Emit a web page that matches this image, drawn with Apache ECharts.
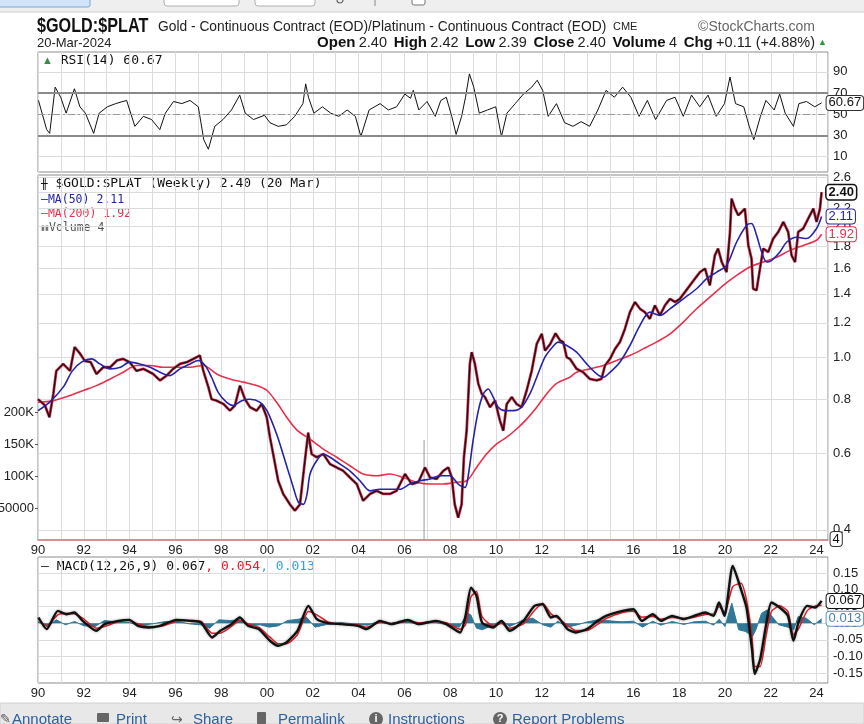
<!DOCTYPE html>
<html><head><meta charset="utf-8">
<script src="https://cdn.jsdelivr.net/npm/echarts@6/dist/echarts.min.js"></script>
<style>html,body{margin:0;padding:0;background:#fff}#c{width:864px;height:724px}</style>
</head><body><div id="c"></div>
<script>
// ---------- data ----------
const priceYears = [1990.0,1990.3,1990.5,1990.67,1990.8,1991.1,1991.4,1991.6,1991.83,1992.05,1992.3,1992.55,1992.85,1993.15,1993.45,1993.72,1994.0,1994.3,1994.6,1995.03,1995.33,1995.62,1995.9,1996.2,1996.5,1996.78,1997.07,1997.22,1997.44,1997.58,1997.8,1998.1,1998.38,1998.6,1998.82,1999.04,1999.26,1999.55,1999.77,1999.99,2000.13,2000.27,2000.49,2000.71,2001.0,2001.22,2001.44,2001.66,2001.8,2001.95,2002.17,2002.46,2002.75,2003.04,2003.33,2003.62,2003.92,2004.2,2004.5,2004.79,2005.08,2005.37,2005.66,2006.03,2006.32,2006.61,2006.9,2007.12,2007.41,2007.7,2007.92,2008.07,2008.2,2008.35,2008.5,2008.6,2008.72,2008.86,2008.94,2009.08,2009.23,2009.38,2009.52,2009.74,2009.96,2010.17,2010.32,2010.47,2010.69,2010.9,2011.12,2011.34,2011.56,2011.78,2012.0,2012.14,2012.36,2012.6,2012.8,2012.94,2013.09,2013.23,2013.52,2013.81,2014.1,2014.4,2014.61,2014.76,2014.98,2015.2,2015.41,2015.63,2015.85,2016.07,2016.29,2016.5,2016.72,2016.94,2017.16,2017.38,2017.6,2017.82,2018.03,2018.25,2018.47,2018.69,2018.91,2019.13,2019.34,2019.56,2019.7,2019.86,2020.07,2020.22,2020.29,2020.44,2020.58,2020.73,2020.87,2021.02,2021.16,2021.23,2021.38,2021.53,2021.67,2021.89,2022.11,2022.33,2022.55,2022.76,2022.91,2023.06,2023.2,2023.42,2023.64,2023.86,2024.0,2024.15,2024.22];
const priceValues = [0.80,0.775,0.727,0.823,0.93,0.965,0.93,1.055,1.02,0.98,0.974,0.915,0.948,0.948,0.983,0.991,0.974,0.93,0.94,0.915,0.884,0.907,0.94,0.965,0.974,0.991,1.009,0.93,0.853,0.80,0.794,0.78,0.753,0.774,0.86,0.80,0.767,0.753,0.78,0.727,0.654,0.598,0.519,0.484,0.458,0.443,0.458,0.58,0.67,0.598,0.588,0.598,0.567,0.557,0.547,0.528,0.51,0.467,0.484,0.492,0.484,0.484,0.492,0.538,0.51,0.515,0.557,0.528,0.524,0.547,0.557,0.528,0.458,0.427,0.458,0.588,0.677,0.965,1.027,0.965,0.868,0.823,0.809,0.767,0.794,0.715,0.677,0.78,0.809,0.78,0.767,0.838,0.93,1.073,1.132,1.036,1.07,1.135,1.093,1.083,1.0,0.991,0.94,0.923,0.891,0.884,0.891,0.957,0.991,1.045,1.083,1.162,1.27,1.34,1.293,1.27,1.226,1.316,1.248,1.316,1.363,1.34,1.363,1.413,1.464,1.517,1.571,1.6,1.464,1.717,1.78,1.657,1.571,1.944,2.32,2.2,2.124,2.162,2.2,1.81,1.687,1.438,1.426,1.6,1.78,1.748,1.877,1.944,2.05,1.944,1.717,1.657,1.944,1.98,2.088,2.2,2.05,2.2,2.40];

const ma50Years = [1990.0,1990.5,1991.1,1991.5,1991.9,1992.35,1992.7,1993.15,1993.6,1994.0,1994.45,1994.9,1995.33,1995.76,1996.2,1996.64,1997.0,1997.3,1997.58,1997.87,1998.24,1998.53,1998.9,1999.26,1999.7,2000.0,2000.42,2000.79,2001.15,2001.37,2001.59,2001.75,2001.88,2002.17,2002.46,2002.75,2003.19,2003.62,2004.06,2004.5,2004.93,2005.37,2005.8,2006.24,2006.68,2007.12,2007.55,2007.99,2008.35,2008.65,2008.8,2009.0,2009.23,2009.45,2009.66,2009.88,2010.1,2010.39,2010.76,2011.12,2011.48,2011.78,2012.14,2012.5,2012.72,2013.09,2013.52,2013.96,2014.4,2014.69,2014.98,2015.41,2015.85,2016.29,2016.72,2017.16,2017.6,2018.18,2018.76,2019.2,2019.64,2020.07,2020.51,2020.95,2021.16,2021.38,2021.6,2021.82,2022.04,2022.4,2022.7,2023.13,2023.57,2024.0,2024.22];
const ma50Values = [0.753,0.787,0.853,0.93,0.974,0.991,0.965,0.94,0.948,0.974,0.965,0.948,0.923,0.907,0.94,0.965,0.983,0.957,0.899,0.83,0.787,0.774,0.794,0.80,0.787,0.753,0.665,0.577,0.501,0.463,0.458,0.484,0.538,0.577,0.598,0.588,0.567,0.547,0.519,0.492,0.496,0.496,0.496,0.51,0.519,0.524,0.533,0.533,0.51,0.501,0.538,0.642,0.753,0.823,0.845,0.809,0.767,0.753,0.753,0.767,0.823,0.899,1.0,1.06,1.083,1.064,1.027,0.965,0.915,0.899,0.923,0.974,1.064,1.184,1.27,1.248,1.293,1.363,1.438,1.517,1.571,1.628,1.843,2.015,2.033,1.91,1.748,1.657,1.672,1.748,1.843,1.89,1.877,1.98,2.11];

const ma200Years = [1990.0,1990.67,1991.4,1991.98,1992.56,1993.15,1993.72,1994.3,1994.9,1995.47,1996.06,1996.64,1997.22,1997.8,1998.38,1998.96,1999.55,2000.0,2000.42,2000.86,2001.3,2001.88,2002.46,2003.04,2003.62,2004.2,2004.79,2005.37,2005.95,2006.53,2007.12,2007.7,2008.28,2008.72,2009.15,2009.59,2010.03,2010.47,2010.9,2011.34,2011.78,2012.21,2012.65,2013.23,2013.52,2014.1,2014.69,2015.27,2015.85,2016.43,2017.0,2017.6,2018.18,2018.76,2019.34,2019.93,2020.51,2021.09,2021.67,2022.26,2022.84,2023.42,2024.0,2024.22];
const ma200Values = [0.787,0.794,0.816,0.838,0.86,0.891,0.923,0.957,0.957,0.948,0.948,0.948,0.957,0.915,0.891,0.876,0.86,0.838,0.787,0.727,0.68,0.647,0.614,0.588,0.562,0.538,0.533,0.538,0.528,0.515,0.51,0.51,0.515,0.519,0.557,0.598,0.631,0.654,0.683,0.72,0.767,0.823,0.87,0.899,0.923,0.94,0.957,0.983,1.009,1.045,1.083,1.132,1.205,1.293,1.375,1.464,1.544,1.614,1.657,1.7,1.763,1.81,1.86,1.92];

const volYears = [2006.86, 2024.22];
const volValues = [156000, 4];

const rsiYears = [1990.02,1990.38,1990.51,1990.75,1990.99,1991.23,1991.59,1991.83,1992.07,1992.43,1992.67,1993.03,1993.39,1993.87,1994.23,1994.6,1994.96,1995.32,1995.56,1995.92,1996.28,1996.64,1997.0,1997.24,1997.44,1997.72,1998.08,1998.45,1998.81,1999.05,1999.41,1999.89,2000.13,2000.49,2000.85,2001.21,2001.57,2001.69,2001.81,2002.05,2002.42,2002.78,2003.14,2003.5,2003.86,2004.1,2004.46,2004.94,2005.3,2005.66,2006.02,2006.27,2006.39,2006.63,2006.99,2007.35,2007.59,2007.83,2008.07,2008.26,2008.5,2008.67,2008.84,2009.03,2009.27,2009.63,2009.99,2010.24,2010.48,2010.84,2011.2,2011.56,2011.8,2012.04,2012.28,2012.64,2013.0,2013.36,2013.72,2014.09,2014.45,2014.81,2015.17,2015.53,2015.89,2016.25,2016.61,2016.97,2017.45,2017.82,2018.18,2018.54,2018.9,2019.26,2019.62,2019.98,2020.22,2020.46,2020.82,2021.06,2021.26,2021.55,2021.79,2022.15,2022.39,2022.63,2022.99,2023.23,2023.56,2023.92,2024.22];
const rsiValues = [63,35.5,32,75.5,66,51,74,57,51,32,51,57,60,63,38.6,48,45,35.5,51,62,60,63,57,26,17,38.6,45,54,68,51,45,49,42,38.6,40,48,60,78.6,66,51,57,51,48,54,48,29,54,60,54,57,69,65,72.5,54,62,48,63,66,48,31,48,66,88,75.5,51,54,57,29,51,60,69,75.5,82,72.5,48,60,42,38.6,43,38.6,54,72.5,66,75.5,66,48,63,45,63,66,48,68,57,68,48,60,85,60,57,38.6,26,48,63,54,69,51,38.6,60,62,57,60.67];

const macdYears = [1990.02,1990.38,1990.87,1991.23,1991.59,1991.95,1992.55,1992.91,1993.51,1993.99,1994.36,1994.84,1995.32,1996.04,1996.64,1997.12,1997.6,1997.96,1998.45,1998.81,1999.17,1999.65,2000.13,2000.49,2000.85,2001.33,2001.81,2002.18,2002.66,2003.26,2003.98,2004.34,2004.94,2005.42,2006.15,2006.63,2007.35,2007.83,2008.43,2008.67,2008.91,2009.15,2009.39,2009.88,2010.24,2010.6,2011.2,2011.68,2012.04,2012.4,2012.64,2013.12,2013.48,2013.97,2014.45,2014.81,2015.53,2016.01,2016.37,2016.85,2017.21,2017.69,2018.18,2018.66,2019.14,2019.5,2019.74,2019.98,2020.34,2020.7,2020.94,2021.18,2021.3,2021.54,2021.79,2022.03,2022.39,2022.75,2022.99,2023.23,2023.59,2023.95,2024.22];
const macdValues = [0.017,-0.018,0.037,0.027,0.032,0.007,-0.023,-0.003,0.007,0.01,-0.008,-0.013,-0.008,0.01,0.007,0.002,-0.043,-0.023,-0.003,0.017,-0.008,-0.018,-0.053,-0.068,-0.058,-0.023,0.052,0.012,0.0,-0.003,-0.008,-0.018,0.007,-0.003,0.01,-0.003,0.007,-0.003,-0.028,0.022,0.107,0.082,0.002,-0.013,0.007,-0.023,0.007,0.052,0.057,0.017,0.022,-0.018,-0.028,-0.018,0.007,0.022,0.037,0.042,0.007,0.027,0.007,0.022,0.012,0.022,0.032,0.022,0.062,0.022,0.172,0.102,0.047,-0.078,-0.153,-0.108,-0.008,0.062,0.047,0.022,-0.053,0.007,0.052,0.047,0.067];
const signalValues = [0.012,-0.008,0.025,0.03,0.028,0.015,-0.015,-0.01,0.004,0.008,-0.002,-0.01,-0.01,0.005,0.008,0.005,-0.03,-0.03,-0.01,0.008,-0.002,-0.013,-0.042,-0.062,-0.062,-0.035,0.035,0.025,0.004,-0.003,-0.005,-0.012,0.002,-0.001,0.006,0.001,0.005,0.001,-0.018,-0.005,0.08,0.095,0.02,-0.008,-0.001,-0.015,-0.002,0.038,0.06,0.028,0.018,-0.006,-0.022,-0.022,-0.003,0.014,0.032,0.036,0.018,0.02,0.012,0.017,0.015,0.018,0.026,0.028,0.05,0.032,0.11,0.12,0.07,-0.04,-0.13,-0.13,-0.04,0.035,0.052,0.035,-0.035,-0.015,0.037,0.052,0.054];

const histYears = [1990.0,1990.4,1990.8,1991.2,1991.6,1992.0,1992.5,1992.9,1993.5,1994.0,1994.4,1995.0,1995.5,1996.0,1996.6,1997.1,1997.5,1997.9,1998.4,1998.8,1999.2,1999.7,2000.1,2000.5,2000.9,2001.4,2001.7,2002.1,2002.6,2003.2,2004.0,2004.4,2004.9,2005.4,2006.1,2006.6,2007.3,2007.8,2008.4,2008.75,2008.9,2009.15,2009.4,2009.9,2010.25,2010.6,2011.2,2011.6,2012.05,2012.4,2012.7,2013.1,2013.5,2014.0,2014.45,2014.8,2015.5,2016.0,2016.4,2016.85,2017.2,2017.7,2018.2,2018.65,2019.15,2019.5,2019.75,2020.0,2020.3,2020.6,2020.9,2021.2,2021.35,2021.6,2021.85,2022.0,2022.35,2022.75,2023.0,2023.2,2023.55,2023.9,2024.22];
const histValues = [0.005,-0.01,0.01,-0.005,0.005,-0.008,-0.01,0.008,0.003,0.002,-0.008,-0.002,0.004,0.006,-0.002,-0.005,-0.015,0.01,0.008,0.01,-0.008,-0.005,-0.012,-0.008,0.008,0.012,0.02,-0.012,-0.004,0.002,-0.004,-0.006,0.006,-0.003,0.005,-0.004,0.003,-0.004,-0.012,0.03,0.025,-0.015,-0.02,-0.005,0.008,-0.01,0.01,0.015,-0.005,-0.012,0.006,-0.012,-0.006,0.004,0.01,0.008,0.004,0.006,-0.012,0.006,-0.006,0.005,-0.004,0.004,0.006,-0.006,0.012,-0.01,0.06,-0.02,-0.025,-0.04,-0.02,0.03,0.04,0.025,-0.005,-0.012,-0.02,0.02,0.015,-0.005,0.013];

const priceTicks = [0.4,0.6,0.8,1.0,1.2,1.4,1.6,1.8,2.0,2.2,2.4,2.6];
const rsiTicks = [10,30,50,70,90];
const macdTicks = [-0.15,-0.10,-0.05,0,0.05,0.10,0.15];
const volTicks = [50000,100000,150000,200000];

// ---------- chart ----------
const zip = (xs, ys, f) => xs.map((x, i) => [x, f ? f(ys[i]) : ys[i]]);
const lg = v => Math.log10(v);
const AX = 'Liberation Sans, Arial, sans-serif';
const MO = '"DejaVu Sans Mono", monospace';

function xa(gi, showLabel, redLine) {
  return {
    type: 'value', gridIndex: gi, min: 1990, max: 2024.5, interval: 1,
    axisLine: redLine ? {show: true, onZero: false, lineStyle: {color: '#d98080', width: 1.5}} : {show: false},
    axisTick: {show: false},
    axisLabel: {show: showLabel, color: '#222', fontSize: 13, fontFamily: AX, margin: 4,
      formatter: v => (Math.round(v) % 2 === 0 ? String(Math.round(v) % 100).padStart(2, '0') : '')},
    splitLine: {show: true, lineStyle: {color: '#dcdcdc', width: 1}}
  };
}
const grid = (top, h) => ({left: 38, right: 36, top: top, height: h, containLabel: false, outerBoundsMode: 'none',
  show: true, borderColor: '#8c8c8c', borderWidth: 1, backgroundColor: '#fff'});
const tag = (color, bold) => ({
  show: true, distance: 5, backgroundColor: '#fff', borderColor: color, borderWidth: 1, borderRadius: 3,
  padding: [1, 2, 0, 2], fontSize: 13, fontFamily: AX, color: color, fontWeight: bold ? 'bold' : 'normal'
});

const chart = echarts.init(document.getElementById('c'), null, {renderer: 'canvas'});
const option = {
  animation: false,
  backgroundColor: '#fff',
  grid: [grid(52, 120), grid(175, 365), grid(557, 126)],
  xAxis: [xa(0, false, false), xa(1, true, true), xa(2, true, false)],
  yAxis: [
    {type: 'value', gridIndex: 0, position: 'right', min: -4.4, max: 108.6,
      axisLine: {show: false}, axisTick: {show: false, customValues: rsiTicks},
      axisLabel: {customValues: rsiTicks, color: '#222', fontSize: 13, fontFamily: AX, margin: 5},
      splitLine: {show: true, lineStyle: {color: '#dcdcdc'}}},
    {type: 'value', gridIndex: 1, position: 'right', min: lg(0.379), max: lg(2.63),
      axisLine: {show: false}, axisTick: {show: false, customValues: priceTicks.map(lg)},
      axisLabel: {customValues: priceTicks.map(lg), color: '#222', fontSize: 13, fontFamily: AX, margin: 5,
        formatter: v => Math.pow(10, v).toFixed(1)},
      splitLine: {show: true, lineStyle: {color: '#dcdcdc'}}},
    {type: 'value', gridIndex: 1, position: 'left', min: 0, max: 570000,
      axisLine: {show: false}, axisTick: {show: true, length: 3, inside: false, customValues: volTicks, lineStyle: {color: '#555'}},
      axisLabel: {customValues: volTicks, color: '#222', fontSize: 13, fontFamily: AX, margin: 4,
        formatter: v => v >= 100000 ? (v / 1000) + 'K' : String(v)},
      splitLine: {show: false}},
    {type: 'value', gridIndex: 2, position: 'right', min: -0.18, max: 0.199,
      axisLine: {show: false}, axisTick: {show: false, customValues: macdTicks},
      axisLabel: {customValues: macdTicks, color: '#222', fontSize: 13, fontFamily: AX, margin: 5,
        formatter: v => v.toFixed(2)},
      splitLine: {show: true, lineStyle: {color: '#dcdcdc'}}}
  ],
  series: [
    {name: 'RSI', type: 'line', xAxisIndex: 0, yAxisIndex: 0, data: zip(rsiYears, rsiValues),
      symbol: 'none', lineStyle: {color: '#111', width: 1}, z: 3,
      endLabel: Object.assign(tag('#333'), {formatter: p => p.value[1].toFixed(2), color: '#111'}),
      markLine: {silent: true, symbol: 'none', label: {show: false},
        data: [{yAxis: 70, lineStyle: {color: '#8a8a8a', width: 2, type: 'solid'}},
               {yAxis: 30, lineStyle: {color: '#8a8a8a', width: 2, type: 'solid'}},
               {yAxis: 50, lineStyle: {color: '#9a9a9a', width: 1, type: [7, 3, 2, 3]}}]}},
    {name: 'Volume', type: 'custom', xAxisIndex: 1, yAxisIndex: 2, data: zip(volYears, volValues), z: 2,
      renderItem: (params, api) => {
        const x = api.value(0), v = api.value(1);
        const p0 = api.coord([x, 0]), p1 = api.coord([x, v]);
        const children = [{type: 'line', shape: {x1: p0[0], y1: p0[1], x2: p1[0], y2: p1[1]}, style: {stroke: '#9a9a9a', lineWidth: 1}}];
        if (params.dataIndex === volYears.length - 1) {
          children.push({type: 'text', x: p0[0] + 9, y: p0[1] - 1, style: {text: String(v), fill: '#111',
            fontFamily: AX, fontSize: 13, backgroundColor: '#fff', borderColor: '#333', borderWidth: 1, borderRadius: 3,
            padding: [1, 2, 0, 2], verticalAlign: 'middle'}});
        }
        return {type: 'group', children: children};
      }},
    {name: 'PriceShade', type: 'line', xAxisIndex: 1, yAxisIndex: 1, data: zip(priceYears, priceValues, lg),
      symbol: 'none', lineStyle: {color: '#e0284a', width: 2.8}, z: 3, silent: true},
    {name: 'MA200', type: 'line', xAxisIndex: 1, yAxisIndex: 1, data: zip(ma200Years, ma200Values, lg),
      symbol: 'none', smooth: 0.3, lineStyle: {color: '#e8304c', width: 1.6}, z: 4,
      endLabel: Object.assign(tag('#e8304c'), {formatter: p => Math.pow(10, p.value[1]).toFixed(2)})},
    {name: 'Price', type: 'line', xAxisIndex: 1, yAxisIndex: 1, data: zip(priceYears, priceValues, lg),
      symbol: 'none', lineStyle: {color: '#111', width: 1.3}, z: 5,
      endLabel: Object.assign(tag('#111', true), {formatter: p => Math.pow(10, p.value[1]).toFixed(2), borderWidth: 1.5})},
    {name: 'MA50', type: 'line', xAxisIndex: 1, yAxisIndex: 1, data: zip(ma50Years, ma50Values, lg),
      symbol: 'none', smooth: 0.3, lineStyle: {color: '#2424a8', width: 1.6}, z: 6,
      endLabel: Object.assign(tag('#2424a8'), {formatter: p => Math.pow(10, p.value[1]).toFixed(2)})},
    {name: 'Hist', type: 'line', xAxisIndex: 2, yAxisIndex: 3, data: zip(histYears, histValues),
      symbol: 'none', lineStyle: {color: '#2f7898', width: 1}, areaStyle: {color: '#2f7898', opacity: 1}, z: 3,
      endLabel: Object.assign(tag('#5b8ec4'), {formatter: p => p.value[1].toFixed(3), color: '#4a7fb5'})},
    {name: 'Signal', type: 'line', xAxisIndex: 2, yAxisIndex: 3, data: zip(macdYears, signalValues),
      symbol: 'none', smooth: 0.2, lineStyle: {color: '#e8202c', width: 1.5}, z: 4},
    {name: 'MACD', type: 'line', xAxisIndex: 2, yAxisIndex: 3, data: zip(macdYears, macdValues),
      symbol: 'none', smooth: 0.2, lineStyle: {color: '#111', width: 2.4, shadowColor: 'rgba(0,0,0,0.35)', shadowBlur: 3}, z: 5,
      endLabel: Object.assign(tag('#111'), {formatter: p => p.value[1].toFixed(3), color: '#111'})}
  ],
  graphic: [
    // browser/toolbar strip at the top
    {type: 'rect', shape: {x: 0, y: 0, width: 864, height: 12}, style: {fill: '#efefef'}, z: 100},
    {type: 'rect', shape: {x: -2, y: -5, width: 92, height: 12, r: 2}, style: {fill: '#d2e5f8', stroke: '#76a6d6'}, z: 101},
    {type: 'rect', shape: {x: 164, y: -5, width: 75, height: 11, r: 3}, style: {fill: '#fff', stroke: '#b0b0b0'}, z: 101},
    {type: 'rect', shape: {x: 255, y: -5, width: 60, height: 11, r: 3}, style: {fill: '#fff', stroke: '#b0b0b0'}, z: 101},
    {type: 'circle', shape: {cx: 340, cy: 0, r: 3}, style: {fill: 'none', stroke: '#666', lineWidth: 1.2}, z: 101},
    {type: 'line', shape: {x1: 375, y1: -2, x2: 375, y2: 6}, style: {stroke: '#888'}, z: 101},
    {type: 'rect', shape: {x: 412, y: -4, width: 13, height: 9, r: 2}, style: {fill: '#fff', stroke: '#777'}, z: 101},
    {type: 'line', shape: {x1: 0, y1: 12, x2: 864, y2: 12}, style: {stroke: '#d0d0d0'}, z: 101},
    // title lines
    {type: 'text', x: 37, y: 26, scaleX: 0.81, style: {text: '$GOLD:$PLAT', fontFamily: AX, fontWeight: 'bold', fontSize: 20, fill: '#111', verticalAlign: 'middle'}},
    {type: 'text', x: 158, y: 27, scaleX: 0.985, style: {text: 'Gold - Continuous Contract (EOD)/Platinum - Continuous Contract (EOD)', fontFamily: AX, fontSize: 14, fill: '#222', verticalAlign: 'middle'}},
    {type: 'text', x: 613, y: 27, style: {text: 'CME', fontFamily: AX, fontSize: 11, fill: '#222', verticalAlign: 'middle'}},
    {type: 'text', x: 815, y: 27, style: {text: '©StockCharts.com', fontFamily: AX, fontSize: 14, fill: '#666', align: 'right', verticalAlign: 'middle'}},
    {type: 'text', x: 37, y: 43, style: {text: '20-Mar-2024', fontFamily: AX, fontSize: 13, fill: '#222', verticalAlign: 'middle'}},
    {type: 'text', x: 815, y: 43, style: {
      text: '{b|Open} {n|2.40}  {b|High} {n|2.42}  {b|Low} {n|2.39}  {b|Close} {n|2.40}  {b|Volume} {n|4}  {b|Chg} {n|+0.11 (+4.88%)}',
      align: 'right', verticalAlign: 'middle',
      rich: {b: {fontFamily: AX, fontWeight: 'bold', fontSize: 15, fill: '#111'}, n: {fontFamily: AX, fontSize: 14.5, fill: '#222'}}}},
    {type: 'text', x: 818, y: 43, style: {text: '▲', fontFamily: AX, fontSize: 9, fill: '#2a9a3a', verticalAlign: 'middle'}},
    // panel legends
    {type: 'text', x: 42, y: 61, style: {text: '{g|▲}{t| RSI(14) 60.67}', verticalAlign: 'middle',
      rich: {g: {fontSize: 11, fill: '#3c8a4a', fontFamily: AX}, t: {fontFamily: MO, fontSize: 13, fill: '#111'}}}},
    {type: 'text', x: 41, y: 184, style: {text: '{i|╫}{t| $GOLD:$PLAT (Weekly) 2.40 (20 Mar)}', verticalAlign: 'middle',
      rich: {i: {fontSize: 11, fill: '#111', fontFamily: MO}, t: {fontFamily: MO, fontSize: 13, fill: '#111'}}}},
    {type: 'text', x: 41, y: 200, style: {text: '—MA(50) 2.11', fontFamily: MO, fontSize: 11.5, fill: '#2424a8', verticalAlign: 'middle'}},
    {type: 'text', x: 41, y: 214, style: {text: '—MA(200) 1.92', fontFamily: MO, fontSize: 11.5, fill: '#e8304c', verticalAlign: 'middle'}},
    {type: 'text', x: 41, y: 228, style: {text: '{i|▮▮}{t|Volume 4}', verticalAlign: 'middle',
      rich: {i: {fontSize: 7, fill: '#777', fontFamily: AX}, t: {fontFamily: MO, fontSize: 11.5, fill: '#555'}}}},
    {type: 'text', x: 41, y: 567, style: {text: '{k|— MACD(12,26,9) 0.067}{r|, 0.054}{c|, 0.013}', verticalAlign: 'middle',
      rich: {k: {fontFamily: MO, fontSize: 13, fill: '#111'}, r: {fontFamily: MO, fontSize: 13, fill: '#e8202c'}, c: {fontFamily: MO, fontSize: 13, fill: '#3aa0d8'}}}},
    // bottom toolbar
    {type: 'rect', shape: {x: 0, y: 703, width: 864, height: 21}, style: {fill: '#e8e8e8', stroke: '#d0d0d0'}},
    {type: 'text', x: 0, y: 720, style: {text: '✎', fontFamily: 'DejaVu Sans', fontSize: 13, fill: '#555', verticalAlign: 'middle'}},
    {type: 'text', x: 12, y: 720, style: {text: 'Annotate', fontFamily: AX, fontSize: 15, fill: '#2d5f9e', verticalAlign: 'middle'}},
    {type: 'rect', shape: {x: 97, y: 713, width: 12, height: 9, r: 1}, style: {fill: '#666'}},
    {type: 'text', x: 116, y: 720, style: {text: 'Print', fontFamily: AX, fontSize: 15, fill: '#2d5f9e', verticalAlign: 'middle'}},
    {type: 'text', x: 171, y: 720, style: {text: '↪', fontFamily: 'DejaVu Sans', fontSize: 14, fill: '#666', verticalAlign: 'middle'}},
    {type: 'text', x: 193, y: 720, style: {text: 'Share', fontFamily: AX, fontSize: 15, fill: '#2d5f9e', verticalAlign: 'middle'}},
    {type: 'rect', shape: {x: 257, y: 712, width: 9, height: 12, r: 1}, style: {fill: '#666'}},
    {type: 'text', x: 278, y: 720, style: {text: 'Permalink', fontFamily: AX, fontSize: 15, fill: '#2d5f9e', verticalAlign: 'middle'}},
    {type: 'circle', shape: {cx: 376, cy: 719, r: 7}, style: {fill: '#666'}},
    {type: 'text', x: 376, y: 719, style: {text: 'i', fontFamily: AX, fontWeight: 'bold', fontSize: 11, fill: '#fff', align: 'center', verticalAlign: 'middle'}},
    {type: 'text', x: 388, y: 720, style: {text: 'Instructions', fontFamily: AX, fontSize: 15, fill: '#2d5f9e', verticalAlign: 'middle'}},
    {type: 'circle', shape: {cx: 500, cy: 719, r: 7}, style: {fill: '#666'}},
    {type: 'text', x: 500, y: 719, style: {text: '?', fontFamily: AX, fontWeight: 'bold', fontSize: 11, fill: '#fff', align: 'center', verticalAlign: 'middle'}},
    {type: 'text', x: 512, y: 720, style: {text: 'Report Problems', fontFamily: AX, fontSize: 15, fill: '#2d5f9e', verticalAlign: 'middle'}}
  ]
};
chart.setOption(option);
</script>
</body></html>
